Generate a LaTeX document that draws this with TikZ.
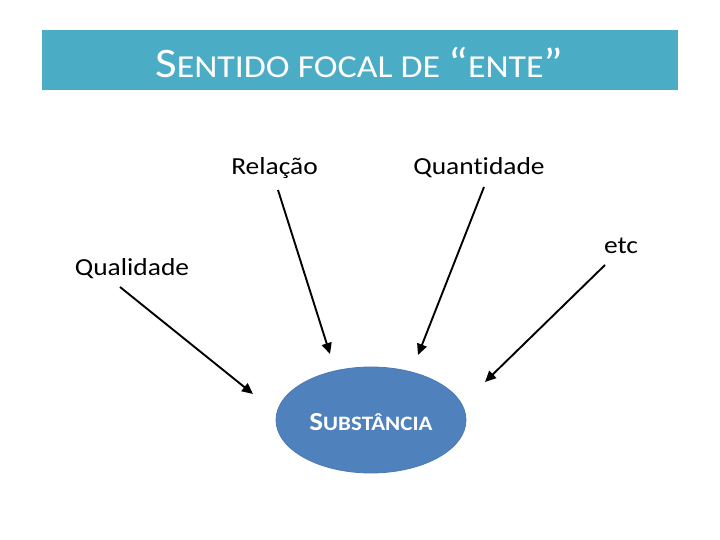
\documentclass[tikz,border=0pt]{standalone}
\usepackage{fontspec}
\setmainfont{Carlito}[FakeStretch=1.12,Ligatures=NoCommon]
\usetikzlibrary{arrows.meta,shapes.geometric}
\definecolor{barblue}{HTML}{4BACC6}
\definecolor{ellblue}{HTML}{4F81BD}
\definecolor{ellline}{HTML}{4A7AB5}
\tikzset{
  lbl/.style={font=\fontsize{24.5}{28}\selectfont, inner sep=0pt, text=black},
  arr/.style={line width=1.9pt, -{Triangle[length=11pt,width=10pt]}},
}
\newcommand{\bigsc}{\fontsize{42}{46}\selectfont}
\newcommand{\smsc}{\fontsize{32}{36}\selectfont}
\begin{document}
\begin{tikzpicture}[x=1pt,y=-1pt]
\useasboundingbox (0,0) rectangle (720,540);
\fill[white] (0,0) rectangle (720,540);
\fill[barblue] (42,30) rectangle (678,90);
\node[anchor=base west, inner sep=0pt, text=white] (title) at (155,78)
  {\bigsc S\smsc ENTIDO FOCAL DE \bigsc “\smsc ENTE\bigsc ”};
\node[ellipse, minimum width=190pt, minimum height=106pt, fill=ellblue, draw=ellline, line width=0.8pt, inner sep=0pt] (sub) at (371,420) {};
\node[anchor=base, inner sep=0pt, text=white, font=\bfseries] (subt) at (371,430)
  {\fontsize{26}{28}\selectfont S\fontsize{20.5}{22}\selectfont UBST\^ANCIA};
\node[lbl, anchor=base] (rel) at (274.5,175) {Relação};
\node[lbl, anchor=base] (qua) at (479,175) {Quantidade};
\node[lbl, anchor=base] (qual) at (132,275) {Qualidade};
\node[lbl, anchor=base] (etc) at (621,254) {etc};
\coordinate (q1s) at (120,287); \coordinate (q1e) at (253,394);
\coordinate (r1s) at (278,190); \coordinate (r1e) at (330,354);
\coordinate (a1s) at (484,187); \coordinate (a1e) at (418,355);
\coordinate (e1s) at (605,265); \coordinate (e1e) at (485,382);
\draw[arr] (q1s) -- (q1e);
\draw[arr] (r1s) -- (r1e);
\draw[arr] (a1s) -- (a1e);
\draw[arr] (e1s) -- (e1e);
\end{tikzpicture}
\end{document}
